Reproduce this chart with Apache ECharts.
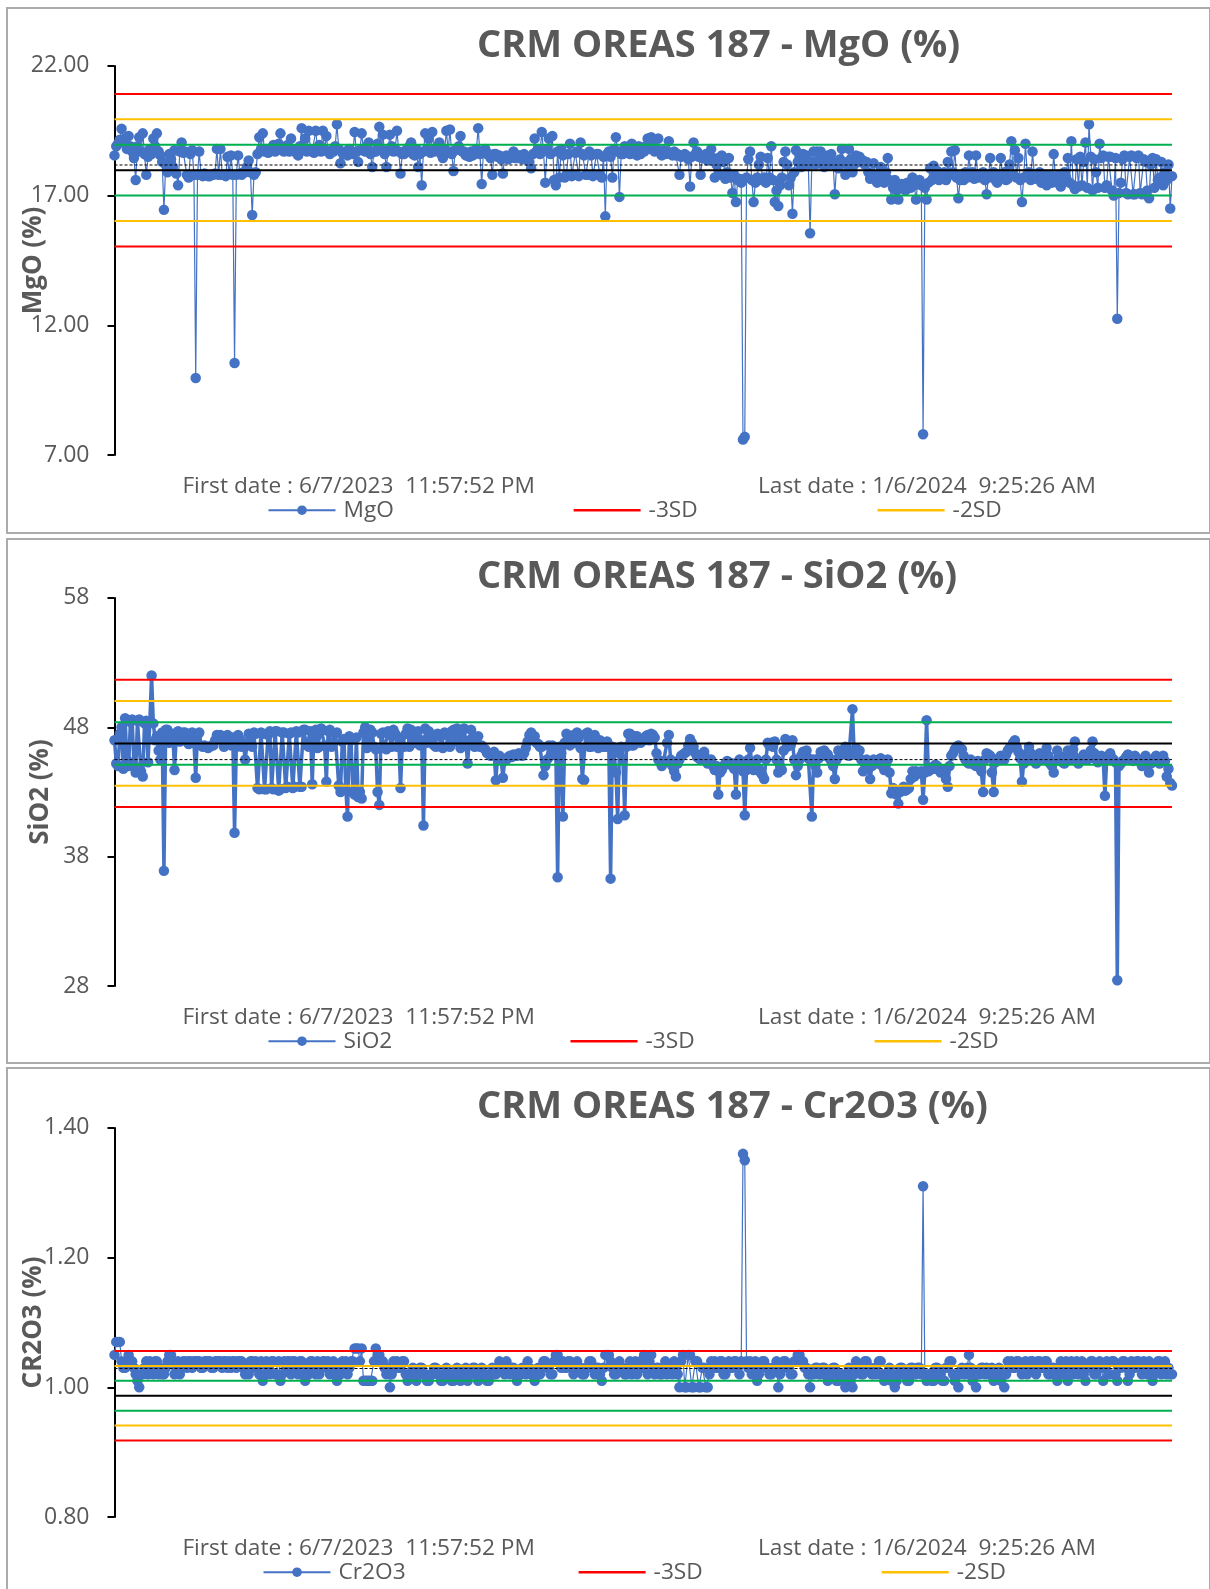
<!DOCTYPE html>
<html>
<head>
<meta charset="utf-8">
<script src="https://cdn.jsdelivr.net/npm/echarts@6/dist/echarts.min.js"></script>
<style>
html,body{margin:0;padding:0;background:#ffffff;}
#chart{width:1210px;height:1589px;}
</style>
</head>
<body>
<div id="chart"></div>
<script>
// ---------------- DATA (one value per sample) ----------------
const MGO = [
18.55,18.9,19.0,19.15,19.58,19.1,19.2,18.8,19.3,18.9,18.7,18.45,17.6,18.9,19.25,18.7,19.4,18.6,17.8,18.5,
18.8,18.6,19.2,18.9,19.4,18.7,18.55,18.3,16.45,18.2,17.9,18.6,18.4,18.1,18.75,17.85,17.4,18.7,19.05,18.65,
18.7,17.8,17.7,18.6,18.75,17.8,9.97,17.8,18.7,17.8,17.75,17.85,17.8,17.75,17.75,17.8,17.8,17.85,18.8,17.8,
18.8,17.8,17.8,17.75,18.5,17.85,18.55,17.8,10.55,17.8,18.55,17.85,17.8,17.9,17.9,18.1,18.35,17.9,16.25,17.8,
17.9,18.6,19.25,18.8,19.4,18.7,18.8,18.65,18.7,18.8,18.95,18.7,18.8,19.0,19.4,18.75,18.7,18.8,18.95,18.7,
19.2,18.75,18.7,18.8,18.55,18.9,19.6,18.75,19.2,18.7,19.5,18.8,18.7,18.65,19.5,18.8,18.95,18.7,19.5,18.75,
19.3,18.7,18.6,18.75,18.7,18.9,19.75,18.8,18.25,18.65,18.6,18.7,18.55,18.8,18.7,18.6,19.45,18.7,18.3,18.75,
19.4,18.8,18.7,18.9,19.05,18.6,18.1,18.7,18.7,19.0,19.65,18.8,19.35,18.6,18.1,18.75,19.35,18.9,18.7,18.8,
19.5,18.7,17.85,18.6,18.6,18.75,18.7,18.9,19.05,18.6,18.55,18.8,18.1,18.6,17.4,18.7,19.4,18.8,19.2,18.65,
19.45,18.7,18.8,18.9,19.05,18.6,18.45,18.8,19.5,18.7,19.55,18.6,17.95,18.75,18.8,18.9,19.3,18.7,18.7,18.55,
18.6,18.5,18.7,18.55,18.7,18.8,19.6,18.6,17.45,18.7,18.8,18.6,18.6,18.45,17.8,18.6,18.6,18.5,18.55,18.4,
17.85,18.5,18.55,18.4,18.45,18.5,18.7,18.45,18.45,18.55,18.55,18.4,18.6,18.5,18.45,18.3,18.05,18.6,19.2,18.7,
18.8,18.6,19.45,18.7,17.5,18.8,19.2,18.6,19.3,17.6,17.4,18.7,17.7,18.8,18.55,17.7,17.8,18.6,19.0,17.75,
17.8,18.65,18.7,17.75,19.05,18.6,18.55,17.8,17.8,18.7,18.55,17.75,17.8,18.6,18.6,17.8,17.7,18.5,16.2,18.6,
18.7,18.5,17.7,18.8,19.25,18.7,16.95,18.6,18.6,18.9,18.8,18.7,18.6,19.0,18.7,18.8,18.55,18.9,18.6,18.8,
18.7,18.9,19.2,18.8,19.25,18.9,18.7,18.8,19.2,18.7,18.55,18.75,18.6,18.7,19.1,18.6,18.55,18.7,18.55,18.6,
17.8,18.5,18.55,18.6,18.55,18.4,17.35,18.5,19.05,18.6,18.7,18.5,17.8,18.45,18.55,18.6,18.35,18.5,18.8,18.45,
17.7,18.2,18.45,17.8,18.55,18.3,17.65,17.9,18.45,17.7,17.1,17.8,16.75,17.6,17.65,17.5,7.6,7.7,17.7,18.4,
18.7,17.6,16.75,17.5,17.7,18.2,18.5,17.6,17.7,17.5,18.45,17.7,18.9,17.6,16.75,17.2,16.6,17.4,17.7,18.3,
18.7,18.2,17.4,17.7,16.3,17.9,18.75,18.3,18.55,18.1,18.6,18.4,18.55,18.2,15.55,18.3,18.7,18.2,18.7,18.35,
18.7,18.3,18.1,18.4,18.55,18.2,18.6,18.3,17.05,18.1,18.05,18.4,18.8,18.3,17.8,18.2,18.8,18.4,17.9,18.2,
18.55,18.4,18.5,18.3,18.35,18.2,18.3,17.9,17.65,17.8,18.25,17.7,17.5,17.8,18.1,17.6,17.5,17.9,18.45,17.6,
16.85,17.3,17.6,17.2,16.85,17.4,17.45,17.3,17.2,17.5,17.5,17.3,17.7,17.4,16.85,17.5,17.6,17.4,7.8,17.3,
16.85,17.5,18.05,17.6,18.15,17.8,17.95,17.6,17.7,17.85,17.9,17.6,18.3,17.8,18.7,17.9,18.75,17.7,16.9,17.6,
17.8,17.6,17.9,17.7,18.55,17.8,17.9,17.65,18.55,17.8,17.7,17.85,17.9,17.6,17.05,17.7,18.45,17.8,17.9,17.6,
17.5,17.8,18.45,17.7,17.9,17.6,17.65,18.2,19.1,17.8,18.75,17.7,18.45,17.6,16.75,17.7,19.0,17.8,17.9,17.6,
18.7,17.8,17.65,17.7,17.9,17.5,17.65,17.8,17.4,17.6,17.8,17.5,18.6,17.7,17.5,17.8,17.35,17.6,17.9,17.7,
18.45,17.5,19.1,17.4,17.25,18.4,17.35,18.5,17.4,18.3,19.05,17.3,19.75,18.5,17.2,18.4,17.9,17.3,19.0,18.45,
18.55,17.3,17.4,18.5,18.5,17.2,17.0,18.45,12.25,17.1,17.5,18.4,18.55,17.1,17.05,18.5,18.55,17.05,17.05,18.45,
18.55,17.1,17.05,18.4,18.3,17.2,16.9,18.2,18.45,17.3,18.4,17.6,17.7,18.3,17.4,17.9,17.6,18.2,16.5,17.75
];
const SIO2 = [
47.0,45.2,45.0,47.5,48.0,44.8,48.7,45.5,45.0,48.4,48.6,45.1,44.5,48.5,48.6,44.6,44.2,48.3,48.5,45.3,
48.4,52.0,48.3,47.0,47.3,46.2,45.5,47.6,36.9,47.8,47.8,46.8,47.0,47.5,44.7,47.3,47.7,46.9,47.0,47.6,
47.6,47.2,46.7,47.5,47.6,46.8,44.1,47.4,47.6,46.6,46.5,46.6,46.5,46.4,46.5,46.6,46.6,47.0,47.4,47.3,
47.4,47.0,46.5,46.8,47.4,46.9,46.6,47.2,39.85,46.5,47.4,47.1,46.5,46.8,45.5,46.6,47.5,47.0,46.5,47.6,
47.5,43.3,43.2,47.6,47.5,43.2,43.2,47.4,47.7,43.3,43.2,47.7,47.7,43.1,43.2,47.6,47.6,43.3,43.4,47.5,
47.6,43.3,43.4,47.7,47.6,43.4,43.4,47.8,47.8,46.6,46.5,47.7,43.6,47.6,47.8,46.4,46.5,47.9,47.8,46.6,
43.8,47.7,47.8,46.5,46.8,47.5,47.6,43.5,43.0,46.9,47.1,43.2,41.1,47.3,47.0,43.0,42.8,47.2,42.6,43.0,
42.5,47.6,48.0,46.4,46.9,47.8,47.6,46.5,46.3,43.0,42.0,47.5,47.6,46.4,46.3,47.7,47.6,46.5,47.8,47.5,
46.5,47.2,43.3,46.6,46.5,47.5,47.9,46.5,47.8,47.6,46.8,47.5,47.7,46.6,47.0,40.4,47.9,46.8,47.7,47.5,
47.4,46.6,46.5,47.5,47.3,46.5,46.4,47.6,47.4,46.6,46.5,47.7,47.8,46.9,47.9,47.5,46.4,47.7,47.9,46.8,
45.2,47.0,47.8,46.6,46.5,47.1,47.3,46.5,46.6,46.4,46.3,46.0,46.0,45.8,45.9,46.1,43.9,45.7,45.8,45.5,
44.1,45.4,45.5,45.7,45.8,45.7,45.9,45.8,45.8,46.0,45.9,45.8,46.0,46.4,46.9,47.4,47.6,47.0,47.3,46.8,
46.7,46.5,46.5,44.3,45.0,45.5,46.6,45.8,46.6,46.5,46.0,36.4,46.5,46.0,41.1,46.8,47.5,46.9,46.6,47.2,
47.4,46.8,47.6,47.2,46.4,44.0,43.9,47.5,47.6,46.5,46.5,47.3,47.4,46.6,46.4,47.0,46.8,46.5,46.5,46.9,
46.5,36.3,46.5,46.0,44.5,40.9,46.0,46.5,45.5,41.2,46.5,47.5,47.5,46.6,46.6,47.3,47.3,46.9,46.8,47.1,
47.0,47.3,47.4,47.0,47.5,47.4,47.2,46.0,45.5,45.3,45.0,45.4,45.3,46.8,47.4,45.5,45.0,44.6,44.2,45.2,
45.5,45.8,45.9,46.0,46.1,46.6,47.1,46.8,46.5,46.0,45.7,45.6,45.5,45.9,46.1,45.6,45.2,45.4,45.5,45.0,
44.7,45.0,42.8,44.5,44.7,45.0,45.2,45.4,45.3,45.1,45.2,44.8,42.8,45.3,45.5,45.0,44.6,41.2,44.7,45.5,
46.4,45.2,44.7,45.0,45.5,44.8,44.5,44.3,44.0,45.5,46.8,46.6,46.8,46.5,46.9,45.5,44.5,45.0,44.7,46.2,
47.1,46.5,46.9,46.6,47.0,45.5,44.3,45.0,45.5,45.8,46.1,45.9,46.2,45.6,45.5,41.1,45.5,45.0,44.5,45.6,
46.1,45.8,46.2,46.0,45.9,45.6,45.4,45.0,44.0,45.5,46.2,46.0,45.9,46.2,46.5,46.0,45.8,45.9,49.4,45.9,
46.4,46.0,46.2,45.5,44.6,45.2,45.5,44.8,44.0,45.0,45.5,45.3,45.2,45.5,45.6,45.0,44.7,45.2,45.5,44.5,
42.9,43.3,43.0,42.8,42.1,43.0,43.1,43.4,43.1,43.2,43.3,44.0,44.6,44.2,44.6,44.4,44.5,44.6,42.4,44.5,
48.55,44.6,44.7,44.9,44.8,45.1,45.0,44.7,44.5,44.6,44.7,44.0,43.4,45.0,45.8,46.0,46.3,46.5,46.6,46.4,
46.3,45.8,45.5,45.3,45.2,45.5,45.3,45.1,45.0,45.4,45.2,44.6,43.0,45.5,46.0,45.9,45.8,44.5,43.0,45.3,
45.5,45.6,45.8,45.6,45.5,45.9,46.2,46.4,46.5,46.8,47.0,46.5,46.1,45.6,43.8,45.2,45.5,46.0,46.5,46.0,
45.5,45.4,45.2,45.6,46.0,45.8,45.5,46.0,46.4,45.8,45.2,45.0,44.5,45.4,46.2,45.8,45.5,45.3,45.2,45.8,
46.2,45.8,45.5,46.3,46.9,45.6,45.2,45.4,45.5,45.9,45.8,45.5,45.6,46.2,46.9,46.0,45.5,45.3,45.5,45.8,
45.6,42.7,45.5,45.8,46.0,45.6,45.5,45.3,28.45,45.0,45.2,45.4,45.5,45.7,45.9,45.6,45.5,45.4,45.8,45.6,
45.5,45.3,45.0,45.4,45.8,45.5,44.5,45.2,45.5,45.6,45.8,45.5,45.2,45.6,45.8,45.4,44.2,44.8,43.7,43.5
];
const CR2O3 = [
1.05,1.07,1.07,1.07,1.04,1.03,1.03,1.04,1.05,1.04,1.04,1.03,1.02,1.01,1.00,1.02,1.02,1.03,1.04,1.02,
1.04,1.03,1.02,1.04,1.04,1.02,1.03,1.02,1.02,1.03,1.04,1.05,1.05,1.04,1.02,1.03,1.04,1.02,1.03,1.04,
1.04,1.03,1.04,1.04,1.03,1.04,1.04,1.04,1.04,1.03,1.03,1.04,1.04,1.04,1.04,1.03,1.03,1.04,1.04,1.04,
1.04,1.03,1.04,1.04,1.03,1.04,1.03,1.04,1.04,1.03,1.04,1.04,1.04,1.03,1.02,1.03,1.02,1.04,1.04,1.03,
1.04,1.03,1.02,1.04,1.01,1.02,1.04,1.03,1.02,1.04,1.04,1.02,1.02,1.04,1.01,1.02,1.04,1.03,1.04,1.04,
1.02,1.04,1.04,1.03,1.02,1.04,1.04,1.02,1.01,1.03,1.02,1.04,1.04,1.03,1.02,1.04,1.02,1.03,1.04,1.04,
1.03,1.04,1.02,1.03,1.04,1.03,1.01,1.02,1.02,1.04,1.03,1.04,1.02,1.03,1.04,1.04,1.06,1.06,1.06,1.04,
1.06,1.01,1.01,1.01,1.01,1.01,1.01,1.04,1.06,1.05,1.05,1.04,1.04,1.03,1.02,1.03,1.00,1.02,1.04,1.03,
1.04,1.03,1.03,1.04,1.04,1.02,1.01,1.02,1.02,1.03,1.02,1.01,1.02,1.03,1.03,1.02,1.02,1.01,1.01,1.02,
1.02,1.03,1.03,1.02,1.02,1.01,1.01,1.02,1.03,1.02,1.02,1.01,1.01,1.02,1.03,1.02,1.01,1.02,1.02,1.03,
1.01,1.02,1.02,1.03,1.03,1.02,1.01,1.02,1.03,1.02,1.02,1.01,1.01,1.02,1.03,1.02,1.02,1.03,1.04,1.03,
1.03,1.02,1.04,1.03,1.02,1.03,1.03,1.02,1.01,1.02,1.02,1.03,1.03,1.02,1.04,1.03,1.02,1.02,1.01,1.02,
1.03,1.02,1.03,1.04,1.04,1.03,1.03,1.02,1.02,1.04,1.05,1.05,1.04,1.03,1.04,1.03,1.03,1.04,1.04,1.03,
1.02,1.03,1.04,1.03,1.03,1.02,1.02,1.03,1.03,1.04,1.04,1.03,1.02,1.03,1.03,1.02,1.01,1.03,1.05,1.05,
1.05,1.04,1.03,1.02,1.02,1.03,1.04,1.03,1.03,1.02,1.02,1.03,1.04,1.02,1.03,1.04,1.02,1.03,1.04,1.03,
1.05,1.03,1.02,1.04,1.05,1.03,1.02,1.03,1.03,1.02,1.02,1.03,1.04,1.02,1.03,1.03,1.02,1.04,1.03,1.02,
1.00,1.04,1.05,1.00,1.00,1.05,1.05,1.00,1.00,1.04,1.04,1.00,1.00,1.03,1.03,1.00,1.00,1.02,1.04,1.03,
1.04,1.03,1.03,1.04,1.04,1.02,1.02,1.03,1.04,1.03,1.03,1.04,1.04,1.03,1.02,1.04,1.36,1.35,1.04,1.03,
1.04,1.02,1.03,1.04,1.01,1.02,1.03,1.04,1.04,1.03,1.03,1.02,1.02,1.03,1.03,1.04,1.00,1.02,1.03,1.04,
1.04,1.03,1.03,1.02,1.02,1.04,1.04,1.05,1.05,1.04,1.04,1.03,1.03,1.02,1.00,1.02,1.02,1.03,1.03,1.02,
1.02,1.03,1.03,1.02,1.01,1.02,1.02,1.03,1.03,1.01,1.01,1.02,1.02,1.01,1.00,1.02,1.03,1.01,1.00,1.02,
1.04,1.03,1.03,1.02,1.02,1.04,1.04,1.03,1.03,1.02,1.02,1.03,1.02,1.04,1.04,1.02,1.01,1.02,1.02,1.03,
1.01,1.02,1.00,1.01,1.02,1.03,1.03,1.02,1.02,1.01,1.01,1.03,1.03,1.02,1.02,1.03,1.03,1.02,1.31,1.02,
1.01,1.02,1.02,1.01,1.01,1.03,1.03,1.02,1.02,1.01,1.01,1.03,1.03,1.04,1.04,1.02,1.01,1.02,1.00,1.02,
1.03,1.02,1.02,1.03,1.05,1.03,1.01,1.02,1.00,1.02,1.02,1.03,1.03,1.02,1.03,1.02,1.02,1.03,1.01,1.02,
1.02,1.03,1.01,1.02,1.00,1.02,1.04,1.03,1.04,1.03,1.03,1.04,1.04,1.03,1.02,1.03,1.04,1.02,1.03,1.04,
1.04,1.03,1.02,1.04,1.04,1.03,1.03,1.04,1.04,1.02,1.02,1.03,1.03,1.02,1.01,1.03,1.04,1.02,1.03,1.04,
1.01,1.03,1.04,1.02,1.03,1.04,1.02,1.03,1.04,1.02,1.01,1.03,1.03,1.04,1.04,1.02,1.02,1.03,1.04,1.03,
1.01,1.03,1.04,1.02,1.02,1.04,1.04,1.02,1.01,1.03,1.03,1.04,1.04,1.03,1.01,1.02,1.04,1.03,1.03,1.04,
1.04,1.03,1.02,1.04,1.03,1.02,1.04,1.03,1.01,1.02,1.03,1.04,1.04,1.02,1.03,1.04,1.02,1.03,1.02,1.02
];
// control limits: -3SD, -2SD, -1SD, Mean, +1SD, +2SD, +3SD
const REF_NAMES = ['-3SD','-2SD','-1SD','Mean','+1SD','+2SD','+3SD'];
const MGO_REF   = [15.04, 16.02, 17.00, 17.98, 18.96, 19.94, 20.92];
const SIO2_REF  = [41.83, 43.47, 45.11, 46.75, 48.39, 50.03, 51.67];
const CR2O3_REF = [0.918, 0.941, 0.964, 0.987, 1.010, 1.033, 1.056];
// dotted average of the results
const AVG_LINES = [18.18, 45.5, 1.029];
// y-axis tick labels
const MGO_TICKS   = [7, 12, 17, 22];
const SIO2_TICKS  = [28, 38, 48, 58];
const CR2O3_TICKS = [0.8, 1.0, 1.2, 1.4];
const TITLES = ['CRM OREAS 187 - MgO (%)', 'CRM OREAS 187 - SiO2 (%)', 'CRM OREAS 187 - Cr2O3 (%)'];
const SERIES_NAMES = ['MgO', 'SiO2', 'Cr2O3'];
const AXIS_NAMES = ['MgO (%)', 'SiO2 (%)', 'CR2O3 (%)'];
const FIRST_DATE = 'First date : 6/7/2023  11:57:52 PM';
const LAST_DATE  = 'Last date : 1/6/2024  9:25:26 AM';

// ---------------- LAYOUT / STYLE ----------------
const FONT = '"Open Sans", "Noto Sans", sans-serif';
const GREY = '#595959';
const BLUE = '#4472C4';
const REF_COLORS = ['#FF0000','#FFC000','#00B050','#000000','#00B050','#FFC000','#FF0000'];
const PANELS = [
  { data: MGO,   ref: MGO_REF,   ticks: MGO_TICKS,   dec: 2, lw: 1.2, panelTop: 7,    panelH: 525, gridTop: 65.9,   gridH: 389.1, nameGap: 68,
    titleY: 44.6,  dateY: 486.4,  legY: 511.7,  legX: [267.5, 573.6, 877.6] },
  { data: SIO2,  ref: SIO2_REF,  ticks: SIO2_TICKS,  dec: 0, lw: 3.5, panelTop: 538,  panelH: 524, gridTop: 597.9,  gridH: 388.1, nameGap: 61,
    titleY: 575.6, dateY: 1017.4, legY: 1042.7, legX: [267.5, 570.5, 874.6] },
  { data: CR2O3, ref: CR2O3_REF, ticks: CR2O3_TICKS, dec: 2, lw: 1.2, panelTop: 1067, panelH: 530, gridTop: 1127.9, gridH: 389.1, nameGap: 68,
    titleY: 1105.6, dateY: 1548.5, legY: 1573.7, legX: [262.5, 578.6, 881.7] }
];
const GRID_LEFT = 114.5, GRID_RIGHT_X = 1172;

const option = {
  animation: false,
  backgroundColor: '#ffffff',
  title: [], grid: [], xAxis: [], yAxis: [], series: [], legend: [], graphic: []
};

PANELS.forEach((p, k) => {
  const N = p.data.length;
  option.title.push({
    text: TITLES[k], left: 477, top: p.titleY - 17, padding: 0,
    textStyle: { fontFamily: FONT, fontSize: 38, fontWeight: 'bold', color: GREY }
  });
  option.grid.push({ left: GRID_LEFT, width: GRID_RIGHT_X - GRID_LEFT, top: p.gridTop, height: p.gridH,
                     containLabel: false, outerBoundsMode: 'none' });
  option.xAxis.push({ type: 'value', gridIndex: k, min: 0, max: N - 1, show: false });
  option.yAxis.push({
    type: 'value', gridIndex: k,
    min: p.ticks[0], max: p.ticks[p.ticks.length - 1],
    name: AXIS_NAMES[k], nameLocation: 'middle', nameGap: p.nameGap, nameRotate: 90, nameMoveOverlap: false,
    nameTextStyle: { fontFamily: FONT, fontSize: 26, fontWeight: 'bold', color: GREY },
    axisLine: { show: true, lineStyle: { color: '#000000', width: 2 } },
    axisTick: { show: true, inside: false, length: 7, lineStyle: { color: '#000000', width: 2 }, customValues: p.ticks },
    axisLabel: { show: true, margin: 25, fontFamily: FONT, fontSize: 23, color: GREY, hideOverlap: false,
                 customValues: p.ticks, formatter: v => Number(v).toFixed(p.dec) },
    splitLine: { show: false }
  });
  // measured results
  option.series.push({
    type: 'line', name: SERIES_NAMES[k], xAxisIndex: k, yAxisIndex: k,
    data: p.data.map((v, i) => [i, v]),
    symbol: 'circle', symbolSize: 10.5, showAllSymbol: true, sampling: 'none',
    lineStyle: { color: BLUE, width: p.lw }, itemStyle: { color: BLUE }, z: 2
  });
  // control lines
  p.ref.forEach((v, j) => {
    option.series.push({
      type: 'line', name: REF_NAMES[j], xAxisIndex: k, yAxisIndex: k,
      data: [[0, v], [N - 1, v]], symbol: 'none', silent: true,
      lineStyle: { color: REF_COLORS[j], width: 2 }, itemStyle: { color: REF_COLORS[j] }, z: 3
    });
  });
  option.series.push({
    type: 'line', name: 'Average', xAxisIndex: k, yAxisIndex: k,
    data: [[0, AVG_LINES[k]], [N - 1, AVG_LINES[k]]], symbol: 'none', silent: true,
    lineStyle: { color: '#000000', width: 1, type: [3, 2] }, z: 3
  });
  // legends (only the first three entries are visible, as in the reference)
  option.legend.push({
    data: [SERIES_NAMES[k]], left: p.legX[0], top: p.legY - 13, padding: 0,
    itemWidth: 67, itemHeight: 12, selectedMode: false,
    textStyle: { fontFamily: FONT, fontSize: 22.7, color: GREY, padding: [0, 0, 0, 3] }
  });
  ['-3SD', '-2SD'].forEach((nm, j) => {
    option.legend.push({
      data: [{ name: nm, icon: 'rect' }], left: p.legX[j + 1], top: p.legY - 13, padding: 0,
      itemWidth: 67, itemHeight: 2.5, selectedMode: false,
      textStyle: { fontFamily: FONT, fontSize: 22.7, color: GREY, padding: [0, 0, 0, 3] }
    });
  });
  // panel frame
  option.graphic.push({
    type: 'rect', left: 6, top: p.panelTop, silent: true, z: -10,
    shape: { x: 0, y: 0, width: 1203, height: p.panelH },
    style: { fill: '#ffffff', stroke: '#ABABAB', lineWidth: 2 }
  });
  option.graphic.push({
    type: 'text', x: 182.4, y: p.dateY, silent: true,
    style: { text: FIRST_DATE, fontFamily: FONT, fontSize: 22.7, fill: GREY, textAlign: 'left', textVerticalAlign: 'middle', align: 'left', verticalAlign: 'middle' }
  });
  option.graphic.push({
    type: 'text', x: 758, y: p.dateY, silent: true,
    style: { text: LAST_DATE, fontFamily: FONT, fontSize: 22.7, fill: GREY, textAlign: 'left', textVerticalAlign: 'middle', align: 'left', verticalAlign: 'middle' }
  });
});

const chart = echarts.init(document.getElementById('chart'), null, { renderer: 'canvas' });
chart.setOption(option);
</script>
</body>
</html>
